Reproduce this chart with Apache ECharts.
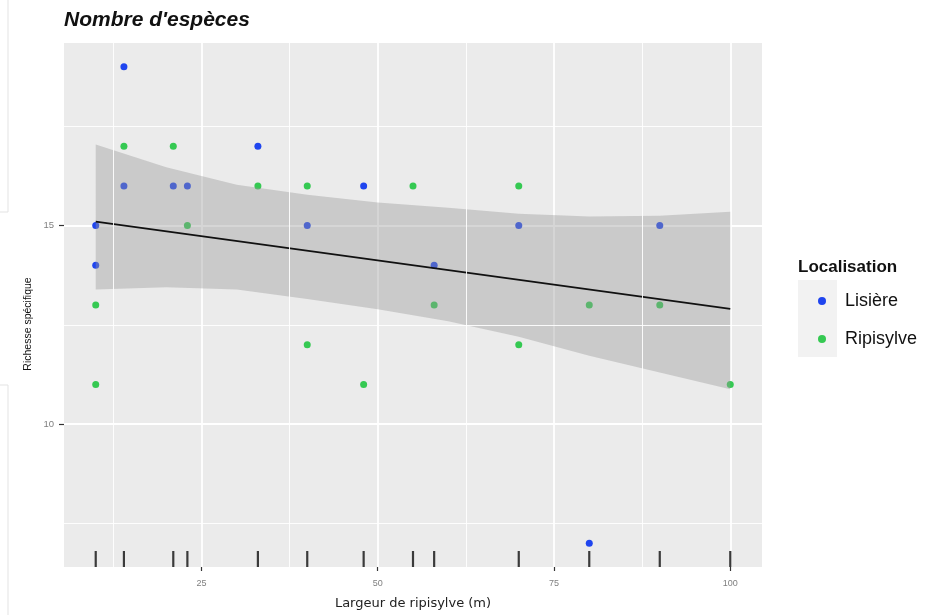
<!DOCTYPE html>
<html>
<head>
<meta charset="utf-8">
<title>Nombre d'espèces</title>
<script src="https://cdn.jsdelivr.net/npm/echarts@6/dist/echarts.min.js"></script>
<style>
  html, body { margin: 0; padding: 0; background: #fff; }
  #chart { width: 934px; height: 615px; }
</style>
</head>
<body>
<div id="chart"></div>
<script>
// Points (largeur de ripisylve, richesse spécifique)
const lisiereX = [10, 10, 14, 14, 21, 23, 33, 40, 48, 58, 70, 80, 90]
const lisiereY = [15, 14, 19, 16, 16, 16, 17, 15, 16, 14, 15, 7, 15]
const ripisylveX = [10, 10, 14, 21, 23, 33, 40, 40, 48, 55, 58, 70, 70, 80, 90, 100]
const ripisylveY = [13, 11, 17, 17, 15, 16, 16, 12, 11, 16, 13, 16, 12, 13, 13, 11]

// Linear fit and its confidence band, as read on the picture
const fitX = [10, 100]
const fitY = [15.1, 12.9]
const bandX = [10, 20, 30, 40, 50, 60, 70, 80, 90, 100]
const bandUpper = [17.04, 16.47, 16.03, 15.78, 15.58, 15.45, 15.3, 15.23, 15.25, 15.35]
const bandLower = [13.39, 13.45, 13.39, 13.15, 12.89, 12.59, 12.2, 11.72, 11.3, 10.88]

// Rug marks along the x axis
const rugX = [10, 14, 21, 23, 33, 40, 48, 55, 58, 70, 80, 90, 100]

// Axes
const xMin = 5.5, xMax = 104.5
const yMin = 6.4, yMax = 19.6
const xTicks = [25, 50, 75, 100]
const xMinor = [12.5, 37.5, 62.5, 87.5]
const yTicks = [10, 15]
const yMinor = [7.5, 12.5, 17.5]

const colors = {
  lisiere: '#1f45ef',
  ripisylve: '#35c952',
  band: 'rgba(153,153,153,0.4)',
  panel: '#ebebeb'
}

const chart = echarts.init(document.getElementById('chart'))

const option = {
  animation: false,
  textStyle: { fontFamily: 'Liberation Sans, Arial, sans-serif' },
  title: [
    {
      text: "Nombre d'espèces",
      left: 64,
      top: 10,
      padding: 0,
      textStyle: { fontSize: 21, fontWeight: 'bold', fontStyle: 'italic', color: '#111' }
    },
    {
      text: 'Localisation',
      left: 798,
      top: 259,
      padding: 0,
      textStyle: { fontSize: 17, fontWeight: 'bold', color: '#111' }
    }
  ],
  legend: {
    orient: 'vertical',
    left: 813,
    top: 286,
    icon: 'circle',
    itemWidth: 8,
    itemHeight: 8,
    itemGap: 18,
    data: ['Lisière', 'Ripisylve'],
    textStyle: { fontSize: 18, color: '#111', lineHeight: 20, padding: [0, 0, 0, 14] }
  },
  grid: {
    left: 64,
    right: 172,
    top: 43,
    bottom: 48,
    show: true,
    backgroundColor: colors.panel,
    borderWidth: 0
  },
  graphic: [
    // grey box behind the legend keys
    { type: 'rect', left: 798, top: 280, shape: { width: 39, height: 77 }, style: { fill: '#f2f2f2' }, z: -1 },
    // faint frame on the left edge of the screenshot
    { type: 'polyline', shape: { points: [[8, 0], [8, 212], [0, 212]] }, style: { stroke: '#e3e3e3', lineWidth: 1, fill: null } },
    { type: 'polyline', shape: { points: [[0, 385], [8, 385], [8, 615]] }, style: { stroke: '#e3e3e3', lineWidth: 1, fill: null } },
    // y axis title
    {
      type: 'text',
      x: 28,
      y: 324,
      rotation: Math.PI / 2,
      style: {
        text: 'Richesse spécifique',
        fontSize: 10.5,
        fontFamily: 'Liberation Sans, Arial, sans-serif',
        fill: '#111',
        align: 'center',
        verticalAlign: 'middle'
      }
    }
  ],
  xAxis: {
    type: 'value',
    min: xMin,
    max: xMax,
    name: 'Largeur de ripisylve (m)',
    nameLocation: 'middle',
    nameGap: 30,
    nameTextStyle: { fontSize: 13, color: '#222', fontFamily: 'DejaVu Sans, sans-serif' },
    axisLine: { show: false },
    axisTick: { show: true, length: 4, customValues: xTicks, lineStyle: { color: '#333', width: 1.2 } },
    axisLabel: { customValues: xTicks, fontSize: 9, color: '#7f7f7f', margin: 12 },
    splitLine: { show: true, lineStyle: { color: '#fff', width: 1.8 } }
  },
  yAxis: {
    type: 'value',
    min: yMin,
    max: yMax,
    axisLine: { show: false },
    axisTick: { show: true, length: 5, customValues: yTicks, lineStyle: { color: '#333', width: 1.2 } },
    axisLabel: { customValues: yTicks, fontSize: 9.5, color: '#7f7f7f', margin: 10 },
    splitLine: { show: true, lineStyle: { color: '#fff', width: 1.8 } }
  },
  series: [
    {
      // minor grid lines
      type: 'line',
      data: [],
      silent: true,
      z: 1,
      markLine: {
        silent: true,
        symbol: 'none',
        label: { show: false },
        lineStyle: { color: '#fff', width: 0.9, type: 'solid' },
        data: [
          ...xMinor.map(v => ({ xAxis: v })),
          ...yMinor.map(v => ({ yAxis: v }))
        ]
      }
    },
    {
      name: 'Lisière',
      type: 'scatter',
      symbolSize: 7,
      z: 2,
      itemStyle: { color: colors.lisiere, opacity: 1 },
      data: lisiereX.map((x, i) => [x, lisiereY[i]])
    },
    {
      name: 'Ripisylve',
      type: 'scatter',
      symbolSize: 7,
      z: 2,
      itemStyle: { color: colors.ripisylve, opacity: 1 },
      data: ripisylveX.map((x, i) => [x, ripisylveY[i]])
    },
    {
      // confidence band drawn over the points, as in ggplot
      type: 'custom',
      z: 3,
      silent: true,
      data: [[bandX[0], bandUpper[0]]],
      renderItem: function (params, api) {
        const top = bandX.map((x, i) => api.coord([x, bandUpper[i]]))
        const bottom = bandX.map((x, i) => api.coord([x, bandLower[i]])).reverse()
        return {
          type: 'polygon',
          shape: { points: top.concat(bottom) },
          style: { fill: colors.band }
        }
      }
    },
    {
      type: 'line',
      z: 4,
      silent: true,
      symbol: 'none',
      lineStyle: { color: '#111', width: 1.8 },
      data: fitX.map((x, i) => [x, fitY[i]])
    },
    {
      // rug
      type: 'custom',
      z: 5,
      silent: true,
      data: rugX.map(x => [x, yMin]),
      renderItem: function (params, api) {
        const p = api.coord([api.value(0), yMin])
        return {
          type: 'line',
          shape: { x1: p[0], y1: p[1], x2: p[0], y2: p[1] - 16 },
          style: { stroke: '#3a3a3a', lineWidth: 2.2 }
        }
      }
    }
  ]
}

chart.setOption(option)
</script>
</body>
</html>
